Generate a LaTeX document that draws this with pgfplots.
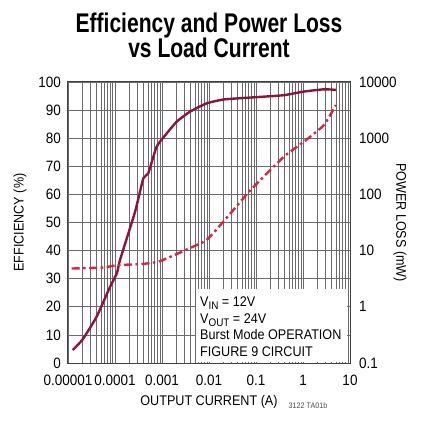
\documentclass[border=0pt]{standalone}
\usepackage{fontspec}
\setmainfont{Liberation Sans}[FakeStretch=0.9]
\newfontfamily\titlefont{Liberation Sans}[FakeStretch=0.78]
\usepackage{pgfplots}
\pgfplotsset{compat=1.18}
\definecolor{effc}{HTML}{8A1538}
\definecolor{plossc}{HTML}{D62541}
\definecolor{gridc}{HTML}{6A6A6A}
\newcommand{\tf}{\fontsize{14bp}{16.5bp}\selectfont}
\newcommand{\tkf}{\fontsize{15bp}{16.5bp}\selectfont}
\begin{document}
\begin{tikzpicture}[x=1bp,y=1bp]
\useasboundingbox (0,0) rectangle (448,425);
\begin{axis}[
  at={(68bp,62bp)}, anchor=south west, scale only axis,
  width=282bp, height=281bp,
  xmode=log, xmin=1e-5, xmax=10,
  ymin=0, ymax=100,
  xtick={1e-5,1e-4,1e-3,1e-2,1e-1,1,10},
  xticklabels={0.00001,0.0001,0.001,0.01,0.1,1,10},
  ytick={0,10,...,100},
  xmajorgrids=true, xminorgrids=true, ymajorgrids=true,
  major grid style={draw=gridc, line width=0.8bp},
  minor grid style={draw=gridc, line width=0.7bp},
  major tick length=0pt, minor tick length=0pt,
  axis line style={draw=black!75, line width=1bp},
  /pgf/number format/assume math mode=true,
  ticklabel style={font=\tkf, inner sep=0pt},
  yticklabel style={anchor=east, xshift=-7bp},
  xticklabel style={anchor=north, yshift=-12bp},
  xlabel={OUTPUT CURRENT (A)},
  xlabel style={font=\tf, at={(axis description cs:0.5,-0.1377)}, anchor=center},
  ylabel={EFFICIENCY (\%)},
  ylabel style={font=\tf, at={(axis description cs:-0.170,0.5)}, anchor=center},
  clip=false,
]
\addplot[effc, line width=2.4bp, smooth, tension=0.3] coordinates {
(1.26e-5,4.6) (2.05e-5,8.4) (4.07e-5,16.5) (7.8e-5,27) (1.1e-4,32)
(1.28e-4,36.7) (2.67e-4,53.8) (4.0e-4,65.7) (5.1e-4,67.5) (7.7e-4,77)
(1.26e-3,81.7) (2.06e-3,85.9) (3.9e-3,89.4) (8.9e-3,92.4) (0.021,93.8)
(0.1,94.6) (0.39,95.3) (1.05,96.6) (2.8,97.4) (5.0,97.2)
};
\end{axis}
\begin{axis}[
  at={(68bp,62bp)}, anchor=south west, scale only axis,
  width=282bp, height=281bp,
  xmode=log, xmin=1e-5, xmax=10,
  ymode=log, ymin=0.1, ymax=10000,
  axis x line=none, axis y line*=right,
  ytick={0.1,1,10,100,1000,10000},
  yticklabels={0.1,1,10,100,1000,10000},
  major tick length=0pt, minor tick length=0pt,
  axis line style={draw=black!75, line width=1bp},
  /pgf/number format/assume math mode=true,
  ticklabel style={font=\tkf, inner sep=0pt},
  yticklabel style={anchor=west, xshift=9bp},
  ylabel={POWER LOSS (mW)},
  ylabel style={font=\tf, at={(axis description cs:1.177,0.5)}, anchor=center, rotate=180},
  clip=false,
]
\addplot[plossc, line width=2.4bp, smooth, tension=0.3,
  dash pattern=on 8bp off 3.5bp on 2.5bp off 3.5bp] coordinates {
(1.2e-5,4.8) (5.6e-5,5.0) (1.1e-4,5.5) (4e-4,5.8) (9.1e-4,6.5)
(3.4e-3,10.5) (8.9e-3,15.5) (0.021,34) (0.077,120) (0.39,468)
(1.05,870) (2.8,1720) (5.0,3900)
};
\fill[white] (axis description cs:0.454,0.004) rectangle (axis description cs:0.990,0.263);
\node[font=\tf, align=left, anchor=north west, inner sep=0pt] at (axis description cs:0.468,0.235)
 {V\raisebox{-3bp}{\fontsize{11bp}{11bp}\selectfont IN} = 12V\\
  V\raisebox{-3bp}{\fontsize{11bp}{11bp}\selectfont OUT} = 24V\\
  Burst Mode OPERATION\\
  FIGURE 9 CIRCUIT};
\end{axis}
\node[font=\titlefont\bfseries\fontsize{27bp}{25bp}\selectfont, anchor=base] at (209,392.5) {Efficiency and Power Loss};
\node[font=\titlefont\bfseries\fontsize{27bp}{25bp}\selectfont, anchor=base] at (209,367.3) {vs Load Current};
\node[font=\fontsize{8bp}{8bp}\selectfont, text=black!70, anchor=base] at (308,17) {3122 TA01b};
\end{tikzpicture}
\end{document}
